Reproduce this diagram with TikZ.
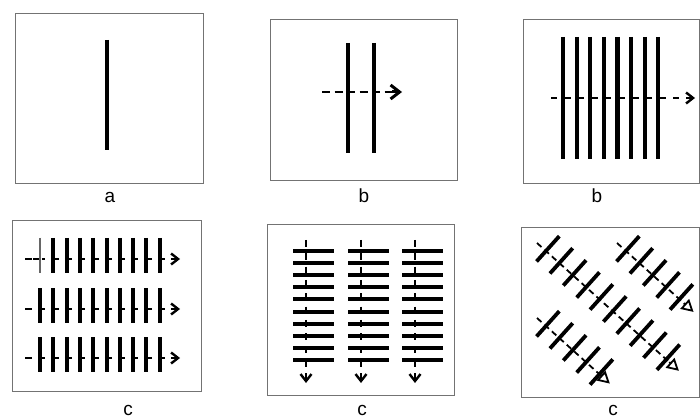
\documentclass[tikz,border=0pt]{standalone}
\usepackage{fontspec}
\setmainfont{Liberation Sans}
\usetikzlibrary{arrows.meta}
\begin{document}
\begin{tikzpicture}[x=1pt,y=-1pt,
  frame/.style={draw=black!55,line width=0.9pt},
  bar/.style={line width=4.4pt,black},
  tick/.style={line width=4pt,black},
  axisb/.style={line width=2.8pt,dash pattern=on 8pt off 4.5pt},
  axisc/.style={line width=2.8pt,dash pattern=on 7pt off 6.3pt},
  axisd/.style={line width=1.8pt,dash pattern=on 6pt off 4pt},
  chevb/.style={line width=3pt,-{Straight Barb[length=9pt,width=14pt]}},
  chevc/.style={line width=2.4pt,-{Straight Barb[length=7pt,width=11pt]}},
  tri/.style={line width=1.8pt,-{Triangle[open,length=12pt,width=13pt]}},
  lbl/.style={font=\fontsize{19}{22}\selectfont,inner sep=0pt,anchor=base},
]
\useasboundingbox[fill=white] (0,0) rectangle (700,419);

% ---------- panel a ----------
\draw[frame] (15,13) rectangle (203,183);
\draw[bar] (107,40) -- (107,150);
\node[lbl] (la) at (110,203) {a};

% ---------- panel b (two bars) ----------
\draw[frame] (270,19) rectangle (457,180);
\draw[bar] (348,43) -- (348,153);
\draw[bar] (374,43) -- (374,153);
\draw[axisb] (322,92) -- (392,92);
\draw[chevb] (392,92) -- (402,92);
\node[lbl] (lb1) at (364,203) {b};

% ---------- panel b (eight bars) ----------
\draw[frame] (523,19) -- (699.5,19) -- (699.5,183) -- (523,183) -- cycle;
\foreach \i in {0,...,7}
  \draw[bar,line width=4.2pt] ({563+13.6*\i},37) -- ++(0,122);
\draw[axisc,line width=2.4pt,dash pattern=on 6pt off 7.6pt] (551,98) -- (686,98);
\draw[chevc] (686,98) -- (695,98);
\node[lbl] (lb2) at (597,203) {b};

% ---------- panel c (horizontal rows) ----------
\draw[frame] (12,220) rectangle (201,391);
\foreach \y in {259,309,358}{
  \draw[axisc] (25,\y) -- (172,\y);
  \foreach \i in {0,...,9}
    \draw[tick] ({40+13.3*\i},\y-21) -- ++(0,35);
  \draw[chevc] (171,\y) -- (180,\y);
}
\draw[white,line width=4.4pt] (40,238) -- (40,273);
\draw[black,line width=2.8pt] (33,259) -- (40,259);
\draw[black!60,line width=1.4pt] (40,238) -- (40,273);
\node[lbl] (lc1) at (128,415) {c};

% ---------- panel c (vertical columns) ----------
\draw[frame] (267,224) rectangle (454,395);
\foreach \x in {306,361,415}{
  \draw[axisc] (\x,240) -- (\x,374);
  \foreach \i in {0,...,9}
    \draw[tick] (\x-13,{251+12.1*\i}) -- ++(41,0);
  \draw[chevc] (\x,374) -- (\x,383);
}
\node[lbl] (lc2) at (362,415) {c};

% ---------- panel c (diagonal rows) ----------
\draw[frame] (699.5,227) -- (521,227) -- (521,397) -- (699.5,397) -- cycle;
\foreach \sx/\sy/\n/\len in {617/243/5/103, 537/243/10/191, 537/318/5/98}{
  \begin{scope}[shift={(\sx,\sy)},rotate=-42]
    \draw[axisd] (0,0) -- (\len-11,0);
    \foreach \i in {1,...,\n}
      \draw[tick,line width=3.8pt] ({12+18*(\i-1)},-20) -- ++(0,34);
    \draw[tri] (\len-13,0) -- (\len,0);
  \end{scope}
}
\node[lbl] (lc3) at (613,415) {c};
\end{tikzpicture}
\end{document}
